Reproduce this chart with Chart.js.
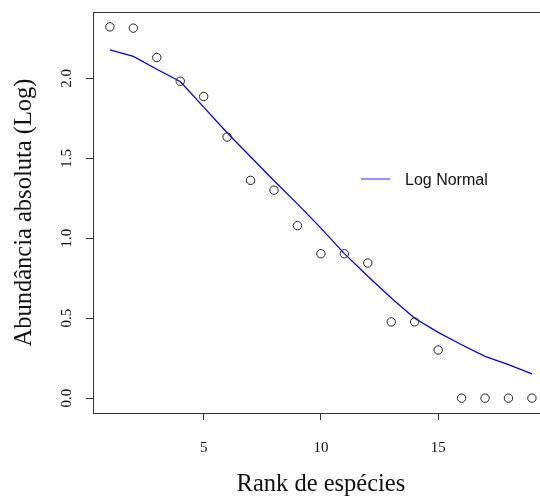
<!DOCTYPE html>
<html>
<head>
<meta charset="utf-8">
<script src="https://cdn.jsdelivr.net/npm/chart.js@4.4.1/dist/chart.umd.min.js"></script>
<style>
  html, body { margin: 0; padding: 0; overflow: hidden; background: #fff; }
  canvas { display: block; }
</style>
</head>
<body>
<canvas id="c" width="554" height="500"></canvas>
<script>
// Species rank (x) and log10 abundance (y)
const ranks = [1, 2, 3, 4, 5, 6, 7, 8, 9, 10, 11, 12, 13, 14, 15, 16, 17, 18, 19];
const observed = [2.322, 2.314, 2.130, 1.982, 1.886, 1.633, 1.362, 1.301, 1.079, 0.903,
                  0.903, 0.845, 0.477, 0.477, 0.301, 0, 0, 0, 0];
const logNormalFit = [2.178, 2.137, 2.057, 1.980, 1.820, 1.660, 1.510, 1.360, 1.215, 1.063,
                      0.904, 0.762, 0.626, 0.500, 0.411, 0.334, 0.261, 0.209, 0.152];
const xTicks = [5, 10, 15];
const yTicks = [0, 0.5, 1.0, 1.5, 2.0];
const fitLabel = 'Log Normal';
const xTitle = 'Rank de espécies';
const yTitle = 'Abundância absoluta (Log)';

const serif = '"Liberation Serif", "Times New Roman", serif';
const sans = '"Liberation Sans", Arial, sans-serif';

// R-style 4% padding around the data range
function padRange(vals) {
  const lo = Math.min(...vals), hi = Math.max(...vals);
  const d = (hi - lo) * 0.04;
  return [lo - d, hi + d];
}
const [xMin, xMax] = padRange(ranks);
const [yMin, yMax] = padRange(observed);

function noEdgePadding(scale) {
  scale.paddingTop = 0;
  scale.paddingBottom = 0;
  scale.paddingLeft = 0;
  scale.paddingRight = 0;
}

const framePlugin = {
  id: 'frame',
  afterDatasetsDraw(chart) {
    const { ctx, chartArea: a } = chart;
    ctx.save();
    ctx.strokeStyle = '#333';
    ctx.lineWidth = 1;
    ctx.strokeRect(Math.round(a.left) + 0.5, Math.round(a.top) + 0.5,
                   Math.round(a.right - a.left), Math.round(a.bottom - a.top));
    ctx.restore();
  }
};

const keyPlugin = {
  id: 'keyBox',
  afterDraw(chart) {
    const { ctx } = chart;
    const ds = chart.data.datasets[0];
    ctx.save();
    ctx.strokeStyle = '#7070ff';
    ctx.lineWidth = 1.5;
    ctx.beginPath();
    ctx.moveTo(361, 179);
    ctx.lineTo(390, 179);
    ctx.stroke();
    ctx.fillStyle = '#111';
    ctx.font = '16px ' + sans;
    ctx.textBaseline = 'middle';
    ctx.textAlign = 'left';
    ctx.fillText(ds.label, 405, 181);
    ctx.restore();
  }
};

new Chart(document.getElementById('c'), {
  type: 'scatter',
  data: {
    datasets: [
      {
        label: fitLabel,
        data: ranks.map((r, i) => ({ x: r, y: logNormalFit[i] })),
        showLine: true,
        borderColor: '#0000ff',
        borderWidth: 1.3,
        pointRadius: 0,
        tension: 0,
        order: 2
      },
      {
        label: 'observed',
        data: ranks.map((r, i) => ({ x: r, y: observed[i] })),
        showLine: false,
        pointStyle: 'circle',
        pointRadius: 4.2,
        pointBorderWidth: 1,
        pointBorderColor: '#222',
        pointBackgroundColor: 'rgba(0,0,0,0)',
        clip: false,
        order: 1
      }
    ]
  },
  options: {
    responsive: false,
    animation: false,
    devicePixelRatio: 1,
    layout: { padding: { top: 12, right: 3, left: 0, bottom: 0 } },
    plugins: {
      legend: { display: false },
      tooltip: { enabled: false }
    },
    scales: {
      x: {
        type: 'linear',
        min: xMin,
        max: xMax,
        afterBuildTicks(scale) { scale.ticks = xTicks.map(v => ({ value: v })); },
        afterFit(scale) { scale.height = 87; noEdgePadding(scale); },
        grid: { display: true, drawOnChartArea: false, drawTicks: true, tickLength: 7, color: '#333' },
        border: { display: true, color: '#333' },
        ticks: {
          font: { family: serif, size: 15 },
          color: '#111',
          padding: 19,
          maxRotation: 0,
          callback: v => String(v)
        },
        title: {
          display: true,
          text: xTitle,
          font: { family: serif, size: 24.5 },
          color: '#111',
          padding: { top: 0, bottom: 1 }
        }
      },
      y: {
        type: 'linear',
        min: yMin,
        max: yMax,
        afterBuildTicks(scale) { scale.ticks = yTicks.map(v => ({ value: v })); },
        afterFit(scale) { scale.width = 93; noEdgePadding(scale); },
        grid: { display: true, drawOnChartArea: false, drawTicks: true, tickLength: 7, color: '#333' },
        border: { display: true, color: '#333' },
        ticks: {
          font: { family: serif, size: 15 },
          color: '#111',
          padding: 10,
          minRotation: 90,
          maxRotation: 90,
          crossAlign: 'center',
          callback: v => Number(v).toFixed(1)
        },
        title: {
          display: true,
          text: yTitle,
          font: { family: serif, size: 24.5 },
          color: '#111',
          padding: { top: 10, bottom: 0 }
        }
      }
    }
  },
  plugins: [framePlugin, keyPlugin]
});
</script>
</body>
</html>
